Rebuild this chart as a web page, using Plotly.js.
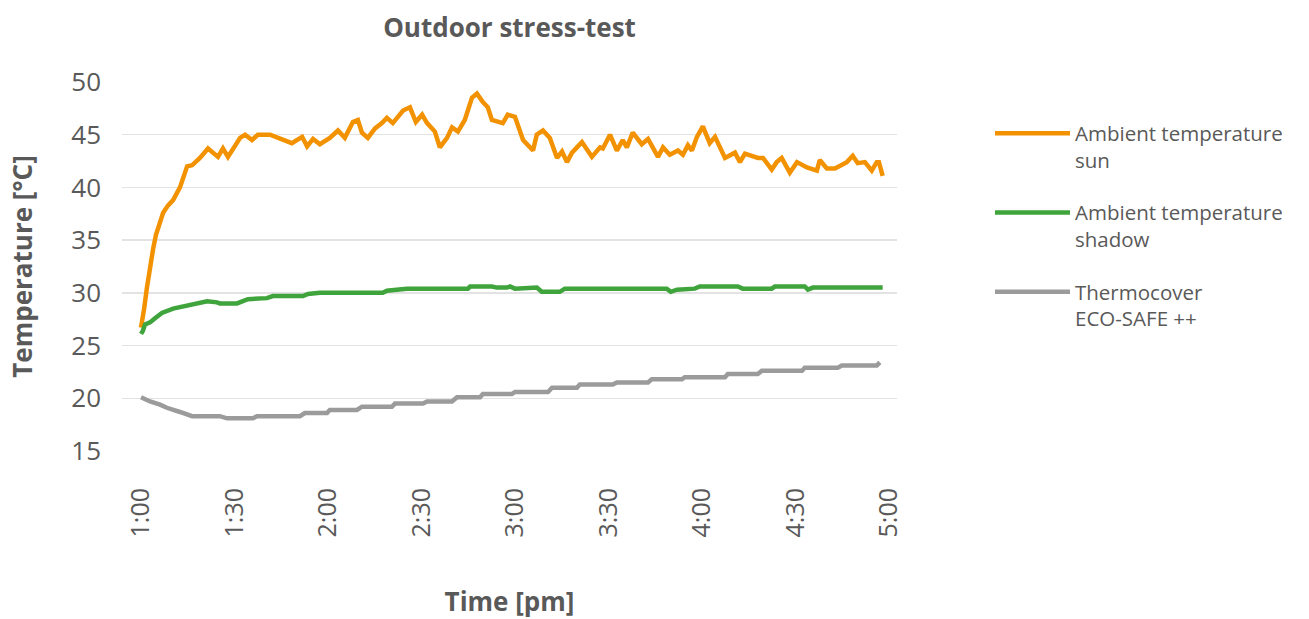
<!DOCTYPE html>
<html>
<head>
<meta charset="utf-8">
<script src="https://cdn.plot.ly/plotly-3.0.1.min.js"></script>
<style>html,body{margin:0;padding:0;background:#fff;}#chart{width:1309px;height:619px;}</style>
</head>
<body>
<div id="chart"></div>
<script>
// Minutes after 1:00 pm
const tickVals = [0, 30, 60, 90, 120, 150, 180, 210, 240];
const tickLabels = ["1:00", "1:30", "2:00", "2:30", "3:00", "3:30", "4:00", "4:30", "5:00"];

const sunMinutes = [0,0.3,1.0,1.9,2.9,3.9,4.8,6.1,7.1,8.7,10.3,12.5,14.8,16.4,18.9,21.5,24.7,26.3,27.9,31.8,33.4,35.6,37.5,41.4,45.6,48.4,51.7,53.3,55.2,57.4,60.6,63.2,65.4,68.0,69.6,70.9,72.8,75.1,77.3,78.9,80.8,84.1,86.3,88.2,90.2,91.8,94.3,95.9,98.2,99.8,101.7,103.9,106.2,107.8,109.7,111.3,112.6,116.1,117.7,120.0,122.6,125.8,127.0,129.0,131.2,133.5,135.1,136.7,138.3,141.5,144.7,147.3,148.2,150.5,152.7,154.6,155.9,157.8,160.7,162.7,165.9,167.5,169.7,172.3,173.9,175.5,176.8,178.4,180.3,182.5,184.2,187.4,190.6,192.2,193.8,198.0,199.6,202.4,204.0,205.6,208.2,210.5,213.7,216.9,217.8,220.1,222.7,226.5,228.4,230.0,232.3,234.5,236.1,236.8,238.0];
const sunTemps = [26.7,27.5,28.5,30.5,32.5,34.2,35.5,36.8,37.6,38.3,38.8,40.0,42.0,42.1,42.8,43.7,42.9,43.7,42.9,44.7,45.0,44.5,45.0,45.0,44.5,44.2,44.8,43.9,44.6,44.1,44.7,45.4,44.7,46.2,46.4,45.2,44.7,45.6,46.1,46.6,46.1,47.3,47.6,46.2,46.9,46.1,45.3,43.8,44.7,45.7,45.3,46.4,48.5,48.9,48.1,47.6,46.4,46.1,46.9,46.7,44.5,43.5,45.0,45.4,44.7,42.8,43.4,42.4,43.3,44.3,42.9,43.8,43.7,45.0,43.5,44.5,43.8,45.2,44.1,44.6,42.9,43.8,43.1,43.5,43.1,44.0,43.5,44.8,45.8,44.2,44.8,42.8,43.3,42.4,43.2,42.8,42.8,41.7,42.4,42.8,41.4,42.4,41.9,41.6,42.6,41.8,41.8,42.4,43.0,42.3,42.4,41.6,42.4,42.4,41.1];

const shadowMinutes = [0,0.6,1.3,2.9,4.5,6.7,10.3,14.8,18.0,21.2,24.4,25.3,30.8,34.3,40.4,42.3,52.0,53.6,57.4,77.6,78.9,85.3,104.9,105.6,112.6,114.2,117.4,118.4,120.0,127.0,128.6,134.4,136.0,168.7,170.0,172.0,177.7,179.3,191.5,193.1,202.4,203.4,213.0,214.0,215.6,238.0];
const shadowTemps = [26.1,26.4,27.0,27.2,27.6,28.1,28.5,28.8,29.0,29.2,29.1,29.0,29.0,29.4,29.5,29.7,29.7,29.9,30.0,30.0,30.2,30.4,30.4,30.6,30.6,30.5,30.5,30.6,30.4,30.5,30.1,30.1,30.4,30.4,30.1,30.3,30.4,30.6,30.6,30.4,30.4,30.6,30.6,30.3,30.5,30.5];

const coverMinutes = [0,2.9,6.1,8.3,12.5,16.4,25.3,27.6,35.9,37.2,51.0,52.6,59.7,60.6,69.3,70.9,80.5,81.5,90.5,91.8,99.8,101.4,108.8,109.7,119.0,120.0,130.6,131.9,139.9,140.8,151.4,152.7,162.7,163.9,173.6,174.5,187.4,188.3,197.9,199.2,212.1,213.0,223.6,224.9,236.1,237.1];
const coverTemps = [20.1,19.7,19.4,19.1,18.7,18.3,18.3,18.1,18.1,18.3,18.3,18.6,18.6,18.9,18.9,19.2,19.2,19.5,19.5,19.7,19.7,20.1,20.1,20.4,20.4,20.6,20.6,21.0,21.0,21.3,21.3,21.5,21.5,21.8,21.8,22.0,22.0,22.3,22.3,22.6,22.6,22.9,22.9,23.1,23.1,23.4];

const seriesNames = ["Ambient temperature<br>sun", "Ambient temperature<br>shadow", "Thermocover<br>ECO-SAFE ++"];

const FONT = "'Open Sans', Lato, sans-serif";
const TXT = "#595959";

const traces = [
  {x: sunMinutes, y: sunTemps, name: seriesNames[0], legendgroup: "a", mode: "lines",
   line: {color: "#f39200", width: 4.5}},
  {x: shadowMinutes, y: shadowTemps, name: seriesNames[1], legendgroup: "b", mode: "lines",
   line: {color: "#3ea43b", width: 4.5}},
  {x: coverMinutes, y: coverTemps, name: seriesNames[2], legendgroup: "c", mode: "lines",
   line: {color: "#9b9b9b", width: 4.5}}
];

const layout = {
  width: 1309, height: 619,
  paper_bgcolor: "#fff", plot_bgcolor: "#fff",
  margin: {l: 122, r: 412, t: 82, b: 168},
  font: {family: FONT, color: TXT},
  title: {text: "<b>Outdoor stress-test</b>", x: 0.5, xref: "paper", y: 0.955, yanchor: "middle", yref: "container",
          font: {family: FONT, size: 26, color: TXT}},
  xaxis: {
    range: [-6.1, 242.6], tickmode: "array", tickvals: tickVals, ticktext: tickLabels,
    tickangle: -90, showgrid: false, zeroline: false, showline: false,
    ticks: "", ticklabelstandoff: 31,
    tickfont: {family: FONT, size: 25, color: TXT},
    title: {text: "<b>Time [pm]</b>", standoff: 57, font: {family: FONT, size: 26, color: TXT}}
  },
  yaxis: {
    range: [15, 50], tickmode: "array", tickvals: [15,20,25,30,35,40,45,50],
    showgrid: true, gridcolor: "#e3e3e3", gridwidth: 1.3, zeroline: false, showline: false,
    ticks: "", ticklabelstandoff: 20,
    tickfont: {family: FONT, size: 26, color: TXT},
    title: {text: "<b>Temperature [°C]</b>", standoff: 31, font: {family: FONT, size: 26, color: TXT}}
  },
  showlegend: true,
  legend: {x: 1.12, xanchor: "left", y: 0.915, yanchor: "top", valign: "top",
           traceorder: "grouped", tracegroupgap: 23, itemwidth: 75,
           font: {family: FONT, size: 20.5, color: TXT}, bgcolor: "rgba(0,0,0,0)"}
};

Plotly.newPlot("chart", traces, layout, {displayModeBar: false, staticPlot: true});
</script>
</body>
</html>
